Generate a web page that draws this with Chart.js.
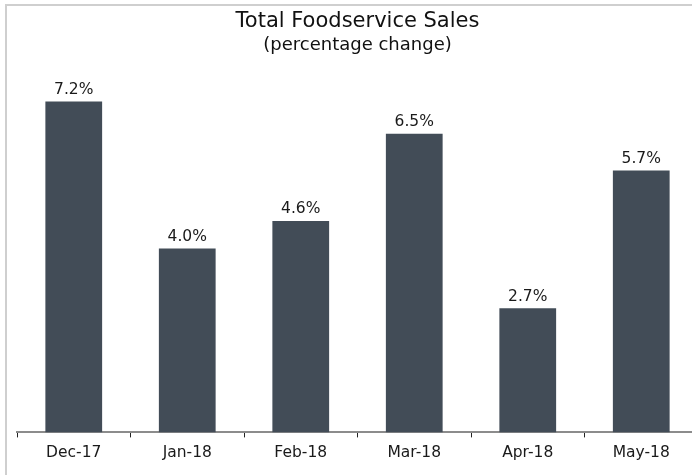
<!DOCTYPE html>
<html>
<head>
<meta charset="utf-8">
<script src="https://cdn.jsdelivr.net/npm/chart.js@4"></script>
<style>
  html, body { margin: 0; padding: 0; background: #fff; overflow: hidden; width: 692px; height: 475px; }
  #frame {
    position: absolute; left: 5px; top: 4px;
    width: 685px; height: 471px; overflow: hidden;
    border-left: 2px solid #cfcfcf; border-top: 2px solid #cfcfcf;
  }
  #wrap { position: absolute; left: 0; top: 0; width: 714px; height: 470px; }
</style>
</head>
<body>
<div id="frame"><div id="wrap"><canvas id="salesChart"></canvas></div></div>
<script>
var months = ['Dec-17', 'Jan-18', 'Feb-18', 'Mar-18', 'Apr-18', 'May-18'];
var salesChange = [7.2, 4.0, 4.6, 6.5, 2.7, 5.7];

var fontFamily = "'DejaVu Sans', Verdana, sans-serif";

// writes the value on top of each bar
var valueLabels = {
    id: 'valueLabels',
    afterDatasetsDraw: function(chart) {
        var ctx = chart.ctx;
        var meta = chart.getDatasetMeta(0);
        ctx.save();
        ctx.font = '15.5px ' + fontFamily;
        ctx.fillStyle = '#1a1a1a';
        ctx.textAlign = 'center';
        ctx.textBaseline = 'bottom';
        meta.data.forEach(function(bar, i) {
            ctx.fillText(salesChange[i].toFixed(1) + '%', bar.x, bar.y - 4);
        });
        ctx.restore();
    }
};

var ctx = document.getElementById('salesChart').getContext('2d');

var chart = new Chart(ctx, {
    type: 'bar',
    data: {
        labels: months,
        datasets: [{
            data: salesChange,
            backgroundColor: '#424c57',
            barPercentage: 0.5,
            categoryPercentage: 1.0
        }]
    },
    options: {
        responsive: true,
        maintainAspectRatio: false,
        animation: false,
        layout: {
            padding: { left: 10, right: 23, top: 2, bottom: 8 }
        },
        scales: {
            y: {
                display: false,
                min: 0,
                max: 8
            },
            x: {
                offset: true,
                grid: {
                    display: true,
                    offset: true,
                    drawOnChartArea: false,
                    drawTicks: true,
                    tickLength: 5,
                    color: '#222'
                },
                border: {
                    display: true,
                    color: '#8c8c8c',
                    width: 2
                },
                ticks: {
                    color: '#1a1a1a',
                    padding: 6,
                    font: { family: fontFamily, size: 15.5 }
                }
            }
        },
        plugins: {
            legend: { display: false },
            tooltip: { enabled: false },
            title: {
                display: true,
                text: 'Total Foodservice Sales',
                color: '#111',
                font: { family: fontFamily, size: 21, weight: 'normal' },
                padding: { top: 1, bottom: 0 }
            },
            subtitle: {
                display: true,
                text: '(percentage change)',
                color: '#111',
                font: { family: fontFamily, size: 18, weight: 'normal' },
                padding: { top: 0, bottom: 9 }
            }
        }
    },
    plugins: [valueLabels]
});
</script>
</body>
</html>
